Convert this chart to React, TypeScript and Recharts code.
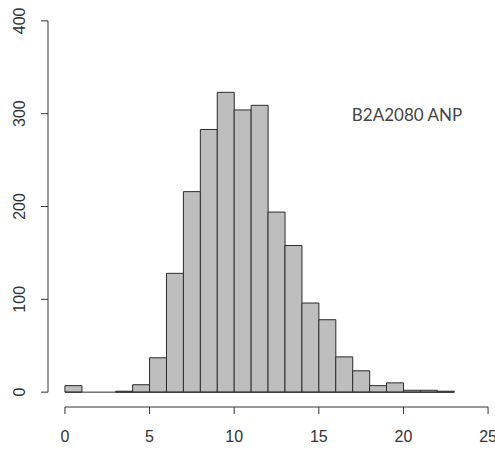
import React from 'react';
import { BarChart, Bar, XAxis, YAxis, ReferenceLine } from 'recharts';

// histogram bins (left edge) and counts
const binStarts = [0, 1, 2, 3, 4, 5, 6, 7, 8, 9, 10, 11, 12, 13, 14, 15, 16, 17, 18, 19, 20, 21, 22];
const counts = [7, 0, 0, 1, 8, 37, 128, 216, 283, 323, 304, 309, 194, 158, 96, 78, 38, 23, 7, 10, 2, 2, 1];
const xTicks = [0, 5, 10, 15, 20, 25];
const yTicks = [0, 100, 200, 300, 400];
const label = 'B2A2080 ANP';

const data = binStarts.map((s, i) => ({ mid: s + 0.5, count: counts[i] }));

const AXIS = '#333';
const FONT = '"Liberation Sans", Arial, sans-serif';

const YTick = (props: any) => {
  const { x, y, payload } = props;
  return (
    <text
      transform={`translate(${x - 14},${y}) rotate(-90)`}
      textAnchor="middle"
      fill="#333"
      fontSize={16}
      fontFamily={FONT}
    >
      {payload.value}
    </text>
  );
};

export default function App() {
  return (
    <div style={{ position: 'absolute', left: 0, top: 0, width: 495, height: 449, overflow: 'hidden', background: '#fff' }}>
      <BarChart
        width={505}
        height={449}
        data={data}
        margin={{ top: 6, right: 0, bottom: 0, left: 0 }}
        barCategoryGap={0}
        barGap={0}
      >
        <XAxis
          type="number"
          dataKey="mid"
          domain={[-1, 26]}
          ticks={xTicks}
          interval={0}
          height={42}
          axisLine={false}
          tickSize={7}
          tickMargin={17}
          tickLine={{ stroke: AXIS }}
          tick={{ fill: '#333', fontSize: 16, fontFamily: FONT }}
        />
        <YAxis
          type="number"
          domain={[-16, 416]}
          ticks={yTicks}
          interval={0}
          width={48}
          axisLine={false}
          tickSize={7}
          tickLine={{ stroke: AXIS }}
          tick={<YTick />}
        />
        <Bar dataKey="count" fill="#bebebe" stroke="#2b2b2b" strokeWidth={1} isAnimationActive={false} />
        <ReferenceLine segment={[{ x: 0, y: 0 }, { x: 23, y: 0 }]} stroke="#2b2b2b" ifOverflow="visible" />
        <ReferenceLine segment={[{ x: -1, y: 0 }, { x: -1, y: 400 }]} stroke={AXIS} ifOverflow="visible" />
        <ReferenceLine segment={[{ x: 0, y: -16 }, { x: 25, y: -16 }]} stroke={AXIS} ifOverflow="visible" />
      </BarChart>
      <div
        style={{
          position: 'absolute',
          left: 407,
          top: 114,
          transform: 'translate(-50%, -50%)',
          fontFamily: 'Lato, "Open Sans", sans-serif',
          fontSize: 17,
          color: '#444',
          whiteSpace: 'nowrap',
        }}
      >
        {label}
      </div>
    </div>
  );
}
